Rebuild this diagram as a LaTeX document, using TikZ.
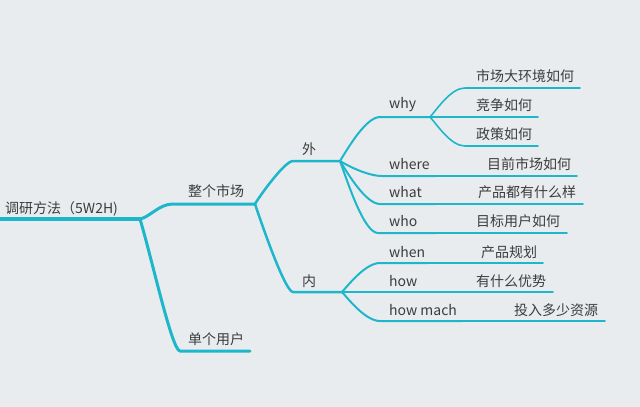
\documentclass[tikz,border=0pt]{standalone}
\usepackage{fontspec}
\setmainfont{Noto Sans CJK SC}
\definecolor{bgc}{HTML}{E9ECEF}
\definecolor{teal}{HTML}{1DB6CA}
\definecolor{txt}{HTML}{3C3C3C}
\begin{document}
\begin{tikzpicture}[x=1pt,y=-1pt,
  lbl/.style={anchor=west,inner sep=0pt,text=txt,font=\fontsize{14}{15}\selectfont},
  br/.style={draw=teal,line cap=round,line join=round},
  w0/.style={br,line width=3.8pt},
  w1/.style={br,line width=3pt},
  w2/.style={br,line width=2.5pt},
  w3/.style={br,line width=2pt},
  w4/.style={br,line width=1.6pt}]
\fill[bgc] (0,0) rectangle (640,407);
\useasboundingbox (0,0) rectangle (640,407);
% coordinates
\coordinate (r0) at (-5,219);
\coordinate (r1) at (140,219);
\coordinate (m0) at (173,204);
\coordinate (m1) at (255,204);
\coordinate (u0) at (180,351);
\coordinate (u1) at (250,351);
\coordinate (o0) at (293,161);
\coordinate (o1) at (340,161);
\coordinate (i0) at (293,292);
\coordinate (i1) at (342,292);
\coordinate (why0) at (380,117);
\coordinate (why1) at (430,117);
\coordinate (a0) at (465,88);
\coordinate (a1) at (580,88);
\coordinate (b1) at (538,117);
\coordinate (c0) at (465,146);
\coordinate (c1) at (538,146);
\coordinate (wh0) at (382,176);
\coordinate (wh1) at (435,176);
\coordinate (wh2) at (577,176);
\coordinate (wt0) at (380,204);
\coordinate (wt1) at (435,204);
\coordinate (wt2) at (583,204);
\coordinate (wo0) at (378,233);
\coordinate (wo1) at (435,233);
\coordinate (wo2) at (567,233);
\coordinate (wn0) at (380,263);
\coordinate (wn1) at (428,263);
\coordinate (wn2) at (543,263);
\coordinate (hw1) at (423,292);
\coordinate (hw2) at (553,292);
\coordinate (hm0) at (380,321);
\coordinate (hm1) at (462,321);
\coordinate (hm2) at (605,321);
% connectors
\draw[w0] (r0) -- (r1);
\draw[w1] (r1) .. controls +(10,-2) and +(-14,0) .. (m0) -- (m1);
\draw[w1] (r1) .. controls +(12,40) and +(-8,0) .. (u0) -- (u1);
\draw[w2] (m1) .. controls +(6,-10) and +(-8,0) .. (o0) -- (o1);
\draw[w2] (m1) .. controls +(6,18) and +(-8,0) .. (i0) -- (i1);
\draw[w3] (o1) .. controls +(8,-13) and +(-14,0) .. (why0) -- (why1);
\draw[w3] (o1) .. controls +(8,5) and +(-14,0) .. (wh0) -- (wh1);
\draw[w3] (o1) .. controls +(8,13) and +(-14,0) .. (wt0) -- (wt1);
\draw[w3] (o1) .. controls +(8,22) and +(-14,0) .. (wo0) -- (wo1);
\draw[w3] (i1) .. controls +(8,-9) and +(-14,0) .. (wn0) -- (wn1);
\draw[w3] (i1) -- (hw1);
\draw[w3] (i1) .. controls +(8,9) and +(-14,0) .. (hm0) -- (hm1);
\draw[w4] (why1) .. controls +(8,-9) and +(-14,0) .. (a0) -- (a1);
\draw[w4] (why1) -- (b1);
\draw[w4] (why1) .. controls +(8,9) and +(-14,0) .. (c0) -- (c1);
\draw[w4] (wh1) -- (wh2);
\draw[w4] (wt1) -- (wt2);
\draw[w4] (wo1) -- (wo2);
\draw[w4] (wn1) -- (wn2);
\draw[w4] (hw1) -- (hw2);
\draw[w4] (hm1) -- (hm2);
% labels
\node[lbl] (troot) at (5,209) {调研方法（5W2H)};
\node[lbl] (tm) at (188,191) {整个市场};
\node[lbl] (tu) at (188,339) {单个用户};
\node[lbl] (to) at (302,149) {外};
\node[lbl] (ti) at (302,281) {内};
\node[lbl] (twhy) at (389,105) {why};
\node[lbl] (tw1) at (389,164) {where};
\node[lbl] (tw2) at (389,192) {what};
\node[lbl] (tw3) at (389,221) {who};
\node[lbl] (tw4) at (389,252) {when};
\node[lbl] (tw5) at (389,281) {how};
\node[lbl] (tw6) at (389,310) {how mach};
\node[lbl] (ta) at (476,76) {市场大环境如何};
\node[lbl] (tb) at (476,105) {竞争如何};
\node[lbl] (tc) at (476,134) {政策如何};
\node[lbl] (td) at (487,164) {目前市场如何};
\node[lbl] (te) at (478,192) {产品都有什么样};
\node[lbl] (tf) at (476,221) {目标用户如何};
\node[lbl] (tg) at (481,252) {产品规划};
\node[lbl] (th) at (476,281) {有什么优势};
\node[lbl] (tk) at (514,310) {投入多少资源};
\end{tikzpicture}
\end{document}
